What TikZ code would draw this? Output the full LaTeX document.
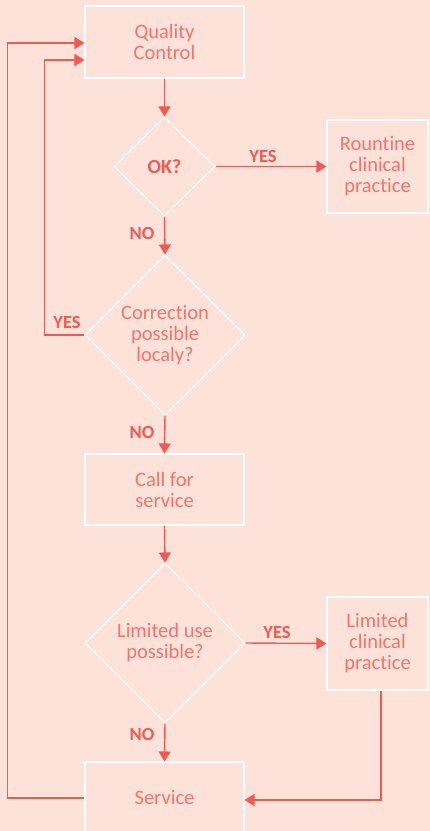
\documentclass[tikz,border=0pt]{standalone}
\usepackage{fontspec}
\setmainfont{Carlito}[Ligatures=NoCommon]
\usetikzlibrary{shapes.geometric,arrows.meta}
\definecolor{bgpink}{HTML}{FDE2DA}
\definecolor{flowred}{HTML}{F15A52}
\definecolor{boxtext}{HTML}{F3746C}
\tikzset{
  stepbox/.style={draw=white, line width=1.1pt, rectangle, inner sep=0pt,
    align=center, text=boxtext, font=\fontsize{20.5}{21}\selectfont},
  decision/.style={draw=white, line width=1.1pt, diamond, inner sep=0pt,
    align=center, text=boxtext, font=\fontsize{20.5}{21}\selectfont},
  arr/.style={draw=flowred, line width=1.4pt,
    -{Triangle[length=10pt,width=12pt]}},
  lbl/.style={text=flowred, font=\bfseries\fontsize{18.5}{19}\selectfont, inner sep=0pt}
}
\begin{document}
\begin{tikzpicture}[x=1pt,y=-1pt]
  \fill[bgpink] (0,0) rectangle (430,831);
  \useasboundingbox (0,0) rectangle (430,831);

  % steps and decisions
  \node[stepbox, minimum width=159pt, minimum height=72pt] (qc) at (164.5,42) {Quality\\Control};
  \node[decision, minimum width=101pt, minimum height=99pt] (ok) at (164.5,166.5)
    {\bfseries\fontsize{20}{21}\selectfont\color{flowred}OK?};
  \node[stepbox, minimum width=101pt, minimum height=93pt] (rout) at (377.5,166.5) {Rountine\\clinical\\practice};
  \node[decision, minimum width=160pt, minimum height=160pt] (corr) at (165,335) {Correction\\possible\\localy?};
  \node[stepbox, minimum width=159pt, minimum height=71pt] (call) at (164.5,489.5) {Call for\\service};
  \node[decision, minimum width=160pt, minimum height=160pt] (lim) at (165,643) {Limited use\\possible?};
  \node[stepbox, minimum width=101pt, minimum height=93pt] (limp) at (377.5,643.5) {Limited\\clinical\\practice};
  \node[stepbox, minimum width=159pt, minimum height=72pt] (serv) at (164.5,798) {Service};

  % connectors
  \draw[arr] (qc.south) -- (ok.north);
  \draw[arr] (ok.east) -- (rout.west);
  \draw[arr] (ok.south) -- (corr.north);
  \draw[arr] (corr.west) -- ++(-40,0) |- ([yshift=-18pt]qc.west);
  \draw[arr] (corr.south) -- (call.north);
  \draw[arr] (call.south) -- (lim.north);
  \draw[arr] (lim.east) -- (limp.west);
  \draw[arr] (lim.south) -- (serv.north);
  \draw[arr] ([xshift=3.5pt]limp.south) |- ([yshift=-2pt]serv.east);
  \draw[arr] (serv.west) -- ++(-77,0) |- ([yshift=-1pt]qc.west);

  % branch labels
  \node[lbl] (yes1) at (263,156) {YES};
  \node[lbl] (no1) at (142,233) {NO};
  \node[lbl] (yes2) at (67,322) {YES};
  \node[lbl] (no2) at (142,432) {NO};
  \node[lbl] (yes3) at (277,632) {YES};
  \node[lbl] (no3) at (142,734) {NO};
\end{tikzpicture}
\end{document}
